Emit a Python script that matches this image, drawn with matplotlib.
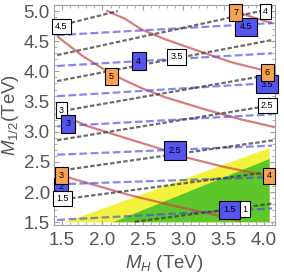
import numpy as np
import matplotlib.pyplot as plt
from matplotlib.ticker import MultipleLocator, FormatStrFormatter

# grey dashed lines (endpoints), labelled 4.5 ... 1
black_x = [[1.45, 2.19], [1.44, 3.96], [1.44, 4.10], [1.44, 4.10],
           [1.44, 4.10], [1.44, 4.12], [1.45, 4.10], [2.40, 4.10]]
black_y = [[4.75, 5.00], [4.27, 5.00], [3.84, 4.52], [3.33, 3.95],
           [2.86, 3.44], [2.35, 2.86], [1.87, 2.34], [1.51, 1.81]]

# blue dashed lines, labelled 4.5 ... 1.5
blue_x = [1.44, 4.10]
blue_y = [[4.60, 4.80], [4.09, 4.30], [3.59, 3.81], [3.09, 3.29],
          [2.62, 2.77], [2.13, 2.25], [1.54, 1.73]]

# red curves, labelled 7 ... 3
red_x = [[3.64, 3.85, 4.10],
         [2.06, 2.28, 2.49, 2.78, 3.25, 3.60, 4.05],
         [1.45, 1.75, 2.07, 2.28, 2.49, 2.78, 3.27, 3.70, 4.12],
         [1.45, 1.80, 2.30, 2.86, 3.02, 3.50, 4.05],
         [1.45, 1.56, 2.00, 2.34, 2.49, 2.90, 3.27, 3.50, 3.70]]
red_y = [[5.00, 4.90, 4.80],
         [5.00, 4.87, 4.69, 4.53, 4.31, 4.15, 4.00],
         [4.57, 4.26, 3.99, 3.85, 3.72, 3.57, 3.37, 3.21, 3.08],
         [3.31, 3.10, 2.89, 2.66, 2.58, 2.42, 2.27],
         [2.30, 2.25, 2.08, 1.95, 1.90, 1.77, 1.66, 1.59, 1.52]]

# shaded regions
yellow_x = [1.54, 4.07, 4.07]
yellow_y = [1.50, 2.73, 1.50]
green_x = [2.13, 4.07, 4.07]
green_y = [1.50, 2.55, 1.50]

# label boxes: text, kind (w=white, b=blue, o=orange)
label_text = ['2', '4.5', '4', '3.5', '3', '2.5', '1',
              '4.5', '4', '3.5', '3', '2.5', '1.5', '1.5',
              '7', '6', '5', '4', '3']
label_kind = ['b', 'w', 'w', 'w', 'w', 'w', 'w',
              'b', 'b', 'b', 'b', 'b', 'b', 'w',
              'o', 'o', 'o', 'o', 'o']
label_x = [1.49, 1.49, 4.02, 2.92, 1.49, 4.04, 3.76,
           3.78, 2.45, 4.04, 1.57, 2.90, 3.57, 1.51,
           3.65, 4.04, 2.11, 4.06, 1.49]
label_y = [2.09, 4.74, 4.99, 4.24, 3.36, 3.44, 1.72,
           4.74, 4.17, 3.79, 3.13, 2.69, 1.71, 1.90,
           4.98, 3.98, 3.92, 2.27, 2.28]

plt.rcParams['font.family'] = ['Liberation Sans', 'DejaVu Sans']
plt.rcParams['mathtext.fontset'] = 'custom'
plt.rcParams['mathtext.it'] = 'Liberation Sans:italic'
plt.rcParams['mathtext.rm'] = 'Liberation Sans'

fig = plt.figure(figsize=(2.84, 2.76), dpi=100)
ax = fig.add_axes([0.190, 0.185, 0.778, 0.797])

ax.fill(yellow_x, yellow_y, color='#f2f23c', lw=0, zorder=1)
ax.fill(green_x, green_y, color='#5cc62a', lw=0, zorder=1.5)

for xs, ys in zip(red_x, red_y):
    ax.plot(xs, ys, color='#c84646', alpha=0.7, lw=1.6, zorder=2)
for ys in blue_y:
    ax.plot(blue_x, ys, color='#4848e0', alpha=0.65, lw=1.6, ls=(0, (3.5, 1.5)), zorder=3)
for xs, ys in zip(black_x, black_y):
    ax.plot(xs, ys, color='#3c3c3c', alpha=0.75, lw=1.6, ls=(0, (2, 1)), zorder=4)

box_colors = {'w': 'white', 'b': '#5454f0', 'o': '#f8a352'}
box_pad = {'w': 0.35, 'b': 0.5, 'o': 0.42}
for i, (t, k, x, y) in enumerate(zip(label_text, label_kind, label_x, label_y)):
    ax.text(x, y, t, fontsize=6.5, ha='center', va='center', zorder=10 + i,
            bbox=dict(boxstyle='square,pad=%.2f' % box_pad[k], fc=box_colors[k],
                      ec='black', lw=0.8))

# axes, ticks and frame
ax.set_xlim(1.40, 4.135)
ax.set_ylim(1.457, 5.10)
ax.xaxis.set_major_locator(MultipleLocator(0.5))
ax.yaxis.set_major_locator(MultipleLocator(0.5))
ax.xaxis.set_minor_locator(MultipleLocator(0.1))
ax.yaxis.set_minor_locator(MultipleLocator(0.1))
ax.xaxis.set_major_formatter(FormatStrFormatter('%.1f'))
ax.yaxis.set_major_formatter(FormatStrFormatter('%.1f'))
ax.tick_params(which='both', direction='in', top=True, right=True, color='#a0a0a0')
ax.tick_params(which='major', length=3.5, width=0.8, labelsize=13.5, labelcolor='#555555')
ax.tick_params(which='minor', length=2, width=0.6)
ax.tick_params(axis='x', pad=5)
ax.tick_params(axis='y', pad=3)
for s in ax.spines.values():
    s.set_color('#a0a0a0')
    s.set_linewidth(0.8)

ax.set_xlabel('$M_H$ (TeV)', fontsize=13.5, color='#555555', labelpad=3)
ax.set_ylabel('$M_{1/2}$(TeV)', fontsize=13.5, color='#555555', labelpad=2)

fig.savefig('out.png', dpi=100)
